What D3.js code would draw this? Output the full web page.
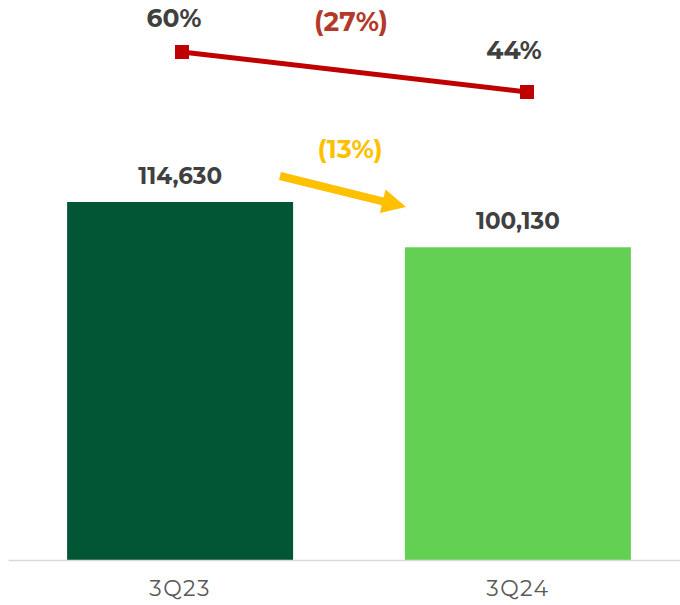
<!DOCTYPE html>
<html>
<head>
<meta charset="utf-8">
<script src="https://cdn.jsdelivr.net/npm/d3@7"></script>
<style>
  html, body { margin: 0; padding: 0; background: #fff; }
  svg text { font-family: Montserrat, "Open Sans", sans-serif; }
</style>
</head>
<body>
<svg id="chart" width="680" height="605"></svg>
<script>
// Quarterly volumes and margin ratio
const categories = ["3Q23", "3Q24"];
const volumes = [114630, 100130];
const ratios = [0.60, 0.44];
const barColors = ["#035635", "#63d053"];
const volumeChange = "(13%)";
const ratioChange = "(27%)";

const svg = d3.select("#chart");
const baseY = 560;

const x = d3.scaleBand()
  .domain(categories)
  .range([8, 690])
  .paddingInner(0.331)
  .paddingOuter(0.175);

const y = d3.scaleLinear().domain([0, 114630]).range([baseY, 202]);

// ratio line sits in its own band at the top
const xLine = d3.scalePoint().domain(categories).range([182, 527]);
const yLine = d3.scaleLinear().domain([0.44, 0.60]).range([92, 52]);

// bars
svg.append("g").selectAll("rect")
  .data(volumes)
  .join("rect")
  .attr("x", (d, i) => x(categories[i]))
  .attr("y", d => y(d))
  .attr("width", x.bandwidth())
  .attr("height", d => baseY - y(d))
  .attr("fill", (d, i) => barColors[i]);

// bar value labels
const fmt = d3.format(",");
svg.append("g").selectAll("text")
  .data(volumes)
  .join("text")
  .attr("x", (d, i) => x(categories[i]) + x.bandwidth() / 2)
  .attr("y", d => y(d) - 18)
  .attr("text-anchor", "middle")
  .attr("font-size", 23)
  .attr("font-weight", 700)
  .attr("fill", "#404040")
  .text(d => fmt(d));

// x axis
const axis = svg.append("g")
  .attr("transform", `translate(0,${baseY})`)
  .call(d3.axisBottom(x).tickSize(0).tickPadding(20));
axis.select(".domain").attr("stroke", "#d9d9d9").attr("stroke-width", 1.5);
axis.selectAll(".tick text")
  .attr("font-size", 22)
  .attr("letter-spacing", 1.5)
  .attr("fill", "#595959")
  .attr("font-family", "Montserrat, 'Open Sans', sans-serif")
  .attr("font-weight", 400);

// ratio line
const pts = ratios.map((r, i) => [xLine(categories[i]), yLine(r)]);
svg.append("path")
  .attr("d", d3.line()(pts))
  .attr("fill", "none")
  .attr("stroke", "#c00000")
  .attr("stroke-width", 5);

svg.append("g").selectAll("rect")
  .data(pts)
  .join("rect")
  .attr("x", d => d[0] - 7)
  .attr("y", d => d[1] - 7)
  .attr("width", 14)
  .attr("height", 14)
  .attr("fill", "#c00000");

const labelDx = [-8, -13];
const labelDy = [-25, -33];
svg.append("g").selectAll("text")
  .data(ratios)
  .join("text")
  .attr("x", (d, i) => pts[i][0] + labelDx[i])
  .attr("y", (d, i) => pts[i][1] + labelDy[i])
  .attr("text-anchor", "middle")
  .attr("font-size", 25)
  .attr("font-weight", 700)
  .attr("fill", "#404040")
  .text(d => d3.format(".0%")(d));

// change annotations
svg.append("text")
  .attr("x", 351).attr("y", 31)
  .attr("text-anchor", "middle")
  .attr("font-size", 26.5).attr("font-weight", 700)
  .attr("fill", "#b33a2b")
  .text(ratioChange);

svg.append("text")
  .attr("x", 350).attr("y", 158)
  .attr("text-anchor", "middle")
  .attr("font-size", 25.5).attr("font-weight", 700)
  .attr("fill", "#ffc000")
  .text(volumeChange);

// downward arrow between the bars
const ax0 = 280, ay0 = 176, ax1 = 406, ay1 = 207;
const ang = Math.atan2(ay1 - ay0, ax1 - ax0);
const len = Math.hypot(ax1 - ax0, ay1 - ay0);
const headL = 24, headW = 12, shaftW = 4;
const arrow = svg.append("g")
  .attr("transform", `translate(${ax0},${ay0}) rotate(${ang * 180 / Math.PI})`);
arrow.append("path")
  .attr("d", `M0,${-shaftW} L${len - headL},${-shaftW} L${len - headL},${-headW} L${len},0 L${len - headL},${headW} L${len - headL},${shaftW} L0,${shaftW} Z`)
  .attr("fill", "#ffc000");
</script>
</body>
</html>
